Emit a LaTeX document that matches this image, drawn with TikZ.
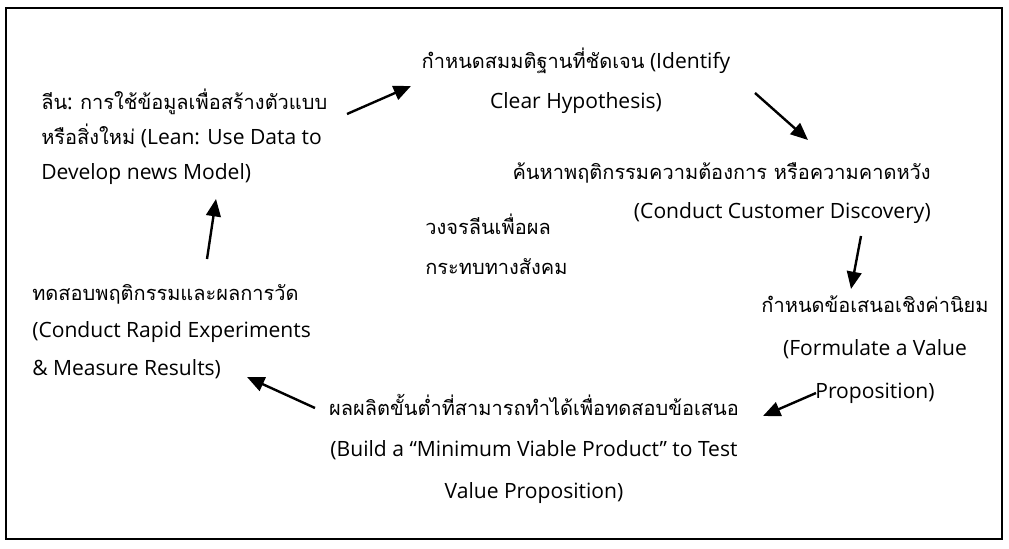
\documentclass[tikz,border=0pt]{standalone}
\usepackage{fontspec}
\setmainfont{Open Sans}
\newfontfamily\thfont[Script=Thai,Scale=0.95]{Loma}
\newcommand\tht[1]{{\thfont #1}}
\usetikzlibrary{arrows.meta}
\tikzset{
  lbl/.style={inner sep=0pt, font=\fontsize{15.8}{#1}\selectfont},
  lbl/.default=27pt,
  arr/.style={line width=1.8pt, -{Triangle[length=13pt,width=11pt]}},
}
\begin{document}
\begin{tikzpicture}[x=0.75pt,y=-0.75pt]
\useasboundingbox (0,0) rectangle (1009,549);
\draw[line width=1.5pt] (6,8) rectangle (1002,539);

% anchor "base" of a multi-line node = baseline of its last line
\node[lbl=26pt, anchor=base west, align=left] (lean) at (41,179)
  {\tht{ลีน}: \tht{การใช้ข้อมูลเพื่อสร้างตัวแบบ}\\
   \tht{หรือสิ่งใหม่} (Lean: Use Data to\\
   Develop news Model)};
\node[lbl=30pt, anchor=base, align=center] (hyp) at (576,109)
  {\tht{กำหนดสมมติฐานที่ชัดเจน} (Identify\\ Clear Hypothesis)};
\node[lbl=29pt, anchor=base east, align=right] (disc) at (931,218)
  {\tht{ค้นหาพฤติกรรมความต้องการ หรือความคาดหวัง}\\
   (Conduct Customer Discovery)};
\node[lbl=30pt, anchor=base west, align=left] (cycle) at (425,274)
  {\tht{วงจรลีนเพื่อผล}\\ \tht{กระทบทางสังคม}};
\node[lbl=32pt, anchor=base, align=center] (value) at (875,398)
  {\tht{กำหนดข้อเสนอเชิงค่านิยม}\\ (Formulate a Value\\
   Proposition)};
\node[lbl=31pt, anchor=base, align=center] (mvp) at (534,498)
  {\tht{ผลผลิตขั้นต่ำที่สามารถทำได้เพื่อทดสอบข้อเสนอ}\\
   (Build a “Minimum Viable Product” to Test\\ Value Proposition)};
\node[lbl=28pt, anchor=base west, align=left] (exp) at (32,375)
  {\tht{ทดสอบพฤติกรรมและผลการวัด}\\
   (Conduct Rapid Experiments\\ \& Measure Results)};

\coordinate (a1) at (347,114); \coordinate (a2) at (411,86);
\coordinate (b1) at (755,93);  \coordinate (b2) at (808,140);
\coordinate (c1) at (861,236); \coordinate (c2) at (851,289);
\coordinate (d1) at (816,393); \coordinate (d2) at (763,416);
\coordinate (e1) at (315,408); \coordinate (e2) at (247,377);
\coordinate (f1) at (207,259); \coordinate (f2) at (216,199);
\draw[arr] (a1) -- (a2);
\draw[arr] (b1) -- (b2);
\draw[arr] (c1) -- (c2);
\draw[arr] (d1) -- (d2);
\draw[arr] (e1) -- (e2);
\draw[arr] (f1) -- (f2);
\end{tikzpicture}
\end{document}
